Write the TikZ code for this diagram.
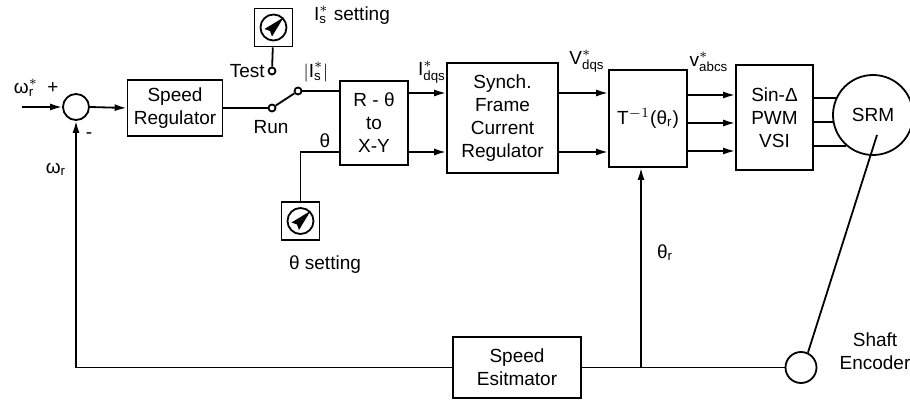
\documentclass[tikz,border=0pt]{standalone}
\usepackage{amsmath}
\usepackage{fontspec}
\setmainfont{Liberation Sans}
\usetikzlibrary{arrows.meta}

\newcommand{\sx}[2]{\ensuremath{\text{#1}^{*}_{\text{#2}}}}
\newcommand{\dialbox}[2]{%
  \node[dial] (#1) at (#2) {};
  \draw (#1.center) circle (6.5pt);
  \fill[shift={(#1.center)}] (10,-10) -- (-1.5,9) -- (-3.5,3.5) -- (-9,1.5) -- cycle;
}

\begin{document}
\begin{tikzpicture}[x=0.5pt, y=-0.5pt, line width=0.9pt,
    font=\fontsize{9.5}{11.5}\selectfont]
  \tikzset{
    block/.style={draw, align=center, inner sep=1pt},
    contact/.style={circle, draw, fill=white, inner sep=0pt, minimum size=3.5pt},
    dial/.style={draw, inner sep=0pt, minimum size=19pt},
    lbl/.style={inner sep=1pt},
    arr/.style={-{Latex[length=6pt,width=3.5pt]}}
  }
  \useasboundingbox (0,0) rectangle (910,400);

  % forward path
  \node[circle, draw, minimum size=13pt] (sum) at (76,107) {};
  \node[block, minimum width=47.5pt, minimum height=28pt] (speedreg) at (175,108) {Speed\\Regulator};
  \node[contact] (runc) at (272,108) {};
  \node[contact] (testc) at (272,71) {};
  \node[contact] (outc) at (298,91) {};
  \dialbox{testdial}{273.5,27.5}
  \node[block, minimum width=34pt, minimum height=42pt] (rtheta) at (374,123) {R - θ\\to\\X-Y};
  \node[block, minimum width=55.5pt, minimum height=55pt] (synch) at (502.5,118) {Synch.\\Frame\\Current\\Regulator};
  \node[block, minimum width=39pt, minimum height=48.5pt] (tinv) at (648,118.5) {T\ensuremath{^{-1}}(θ\ensuremath{_{\text{r}}})};
  \node[block, minimum width=38.5pt, minimum height=52.5pt] (sinpwm) at (774.5,117.5) {Sin-Δ\\PWM\\VSI};
  \node[circle, draw, minimum size=40pt] (srm) at (873,115) {SRM};
  \dialbox{thetadial}{300.5,221}

  % feedback path
  \node[block, minimum width=64pt, minimum height=30.5pt] (estim) at (517,367.5) {Speed\\Esitmator};
  \node[circle, draw, minimum size=15.5pt] (encoder) at (801,367.5) {};

  \coordinate (in) at (22,107);
  \coordinate (rowA) at (0,93);
  \coordinate (rowB) at (0,152);
  \coordinate (shaft) at (877,135);
  \coordinate (tap) at (641,367.5);

  % connectors
  \draw[arr] (in) -- (sum.west);
  \draw[arr] (sum.east) -- (speedreg.west);
  \draw (speedreg.east) -- (runc);
  \draw (runc) -- (outc);
  \draw (testc) -- (testdial);
  \draw (outc) -- (outc -| rtheta.west);
  \draw (thetadial) -- (thetadial |- rowB) -- (rtheta.west |- rowB);
  \draw[arr] (rtheta.east |- rowA) -- (synch.west |- rowA);
  \draw[arr] (rtheta.east |- rowB) -- (synch.west |- rowB);
  \draw[arr] (synch.east |- rowA) -- (tinv.west |- rowA);
  \draw[arr] (synch.east |- rowB) -- (tinv.west |- rowB);
  \foreach \y in {95,123,151} {
    \coordinate (row) at (0,\y);
    \draw[arr] (tinv.east |- row) -- (sinpwm.west |- row);
  }
  \foreach \a in {155,190,229}
    \draw (srm.\a -| sinpwm.east) -- (srm.\a);
  \draw (shaft) -- (encoder.65);
  \draw (encoder.west) -- (estim.east);
  \draw[arr] (estim.west) -- (sum |- estim.west) -- (sum.south);
  \draw[arr] (tap) -- (tap |- tinv.south);

  % labels
  \node[lbl] (wref) at (26,88) {\sx{ω}{r}};
  \node[lbl] (plus) at (53,88) {+};
  \node[lbl] (minus) at (89,136) {-};
  \node[lbl] (wr) at (56,169) {ω\ensuremath{_{\text{r}}}};
  \node[lbl, anchor=east] (testlbl) at (testc.west) {Test};
  \node[lbl] (runlbl) at (271,127) {Run};
  \node[lbl] (islbl) at (316,72) {\ensuremath{|\text{I}^{*}_{\text{s}}|}};
  \node[lbl] (isset) at (352,15) {\sx{I}{s} setting};
  \node[lbl] (thlbl) at (325,141) {θ};
  \node[lbl] (thset) at (325,265) {θ setting};
  \node[lbl] (idqs) at (432,72) {\sx{I}{dqs}};
  \node[lbl] (vdqs) at (587,61) {\sx{V}{dqs}};
  \node[lbl] (vabcs) at (709,62) {\sx{v}{abcs}};
  \node[lbl] (thr) at (665,253) {θ\ensuremath{_{\text{r}}}};
  \node[lbl, align=center] (enclbl) at (875,351) {Shaft\\Encoder};
\end{tikzpicture}
\end{document}
